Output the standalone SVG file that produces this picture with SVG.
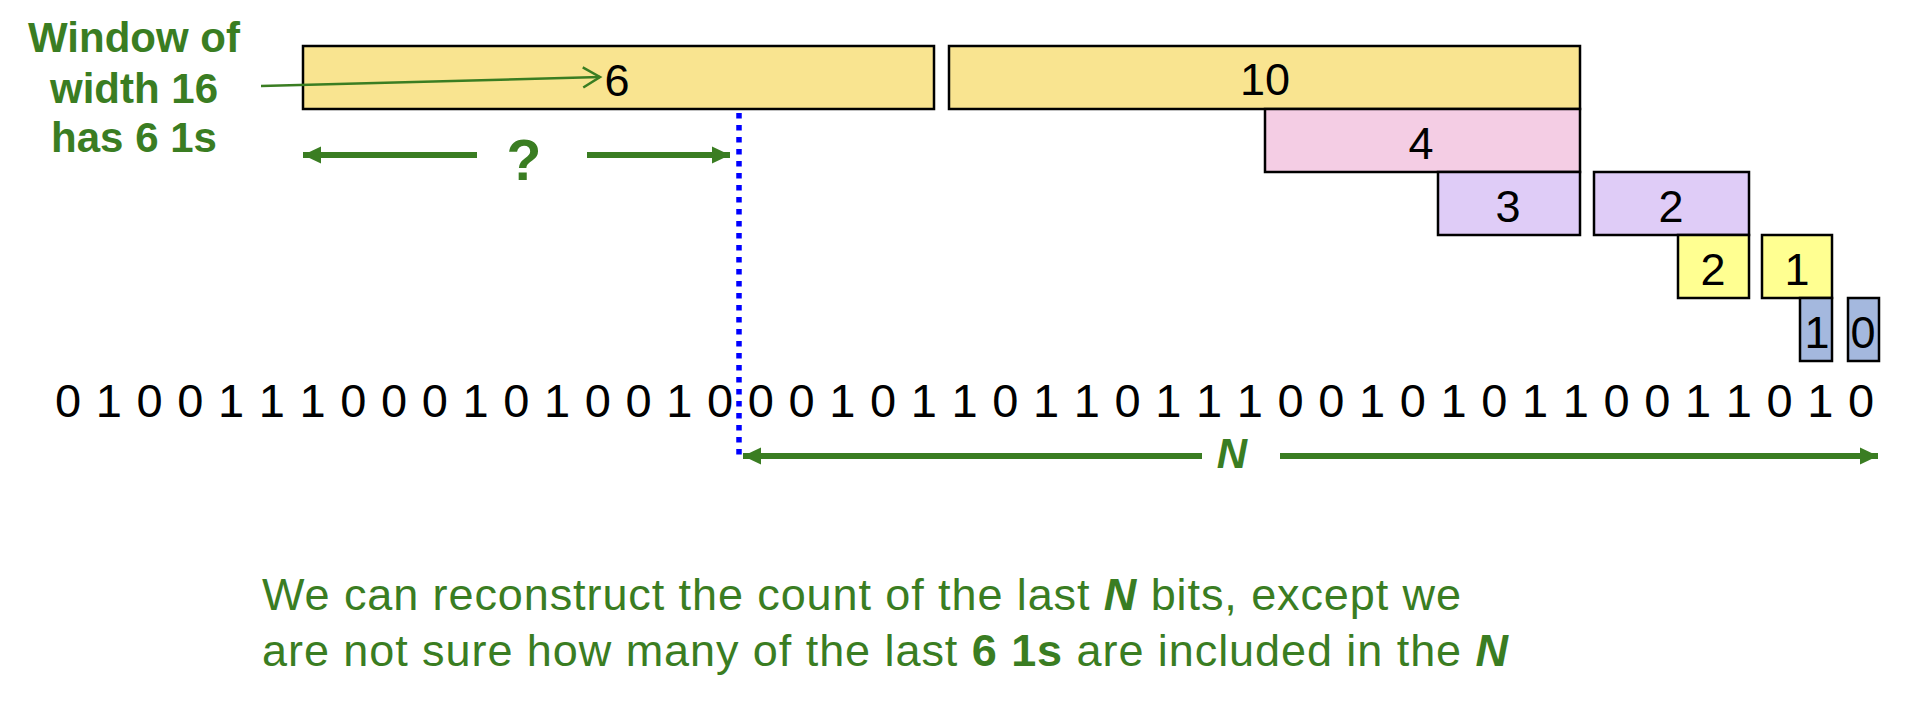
<svg xmlns="http://www.w3.org/2000/svg" width="1932" height="722" viewBox="0 0 1932 722">
<style>
.box{stroke:#000;stroke-width:2.5}
.gold{fill:#F9E490}
.pink{fill:#F4CDE4}
.lav{fill:#DFCCF7}
.yel{fill:#FFFF91}
.blu{fill:#A4B8DE}
.num{font-family:"Liberation Sans",Arial,sans-serif;font-size:45px;fill:#000;text-anchor:middle}
.bits{font-family:"Liberation Sans",Arial,sans-serif;font-size:47px;fill:#000;text-anchor:middle}
.gtxt{font-family:"Liberation Sans",Arial,sans-serif;fill:#3A7D22}
.gb{font-weight:bold}
.bi{font-weight:bold;font-style:italic}
.thick{stroke:#3A7D22;stroke-width:6;fill:none}
</style>
<defs>
<marker id="solid" markerUnits="userSpaceOnUse" markerWidth="20" markerHeight="20" viewBox="0 0 20 20" refX="18" refY="10" orient="auto">
<path d="M0,1.5 L18,10 L0,18.5 Z" fill="#3A7D22"/>
</marker>
<marker id="open" markerUnits="userSpaceOnUse" markerWidth="22" markerHeight="24" viewBox="0 0 22 24" refX="19" refY="12" orient="auto">
<path d="M2,2 L19,12 L2,22" fill="none" stroke="#3A7D22" stroke-width="2.5"/>
</marker>
</defs>
<rect width="1932" height="722" fill="#fff"/>

<g id="box6"><rect class="box gold" x="303" y="46" width="631" height="63"/><text class="num" x="617" y="96">6</text></g>
<g id="box10"><rect class="box gold" x="949" y="46" width="631" height="63"/><text class="num" x="1265" y="95">10</text></g>
<g id="box4"><rect class="box pink" x="1265" y="109" width="315" height="63"/><text class="num" x="1421" y="159">4</text></g>
<g id="box3"><rect class="box lav" x="1438" y="172" width="142" height="63"/><text class="num" x="1508" y="222">3</text></g>
<g id="box2a"><rect class="box lav" x="1594" y="172" width="155" height="63"/><text class="num" x="1671" y="222">2</text></g>
<g id="box2b"><rect class="box yel" x="1678" y="235" width="71" height="63"/><text class="num" x="1713" y="285">2</text></g>
<g id="box1a"><rect class="box yel" x="1762" y="235" width="70" height="63"/><text class="num" x="1797" y="285">1</text></g>
<g id="box1b"><rect class="box blu" x="1800" y="298" width="32" height="63"/><text class="num" x="1817" y="348">1</text></g>
<g id="box0"><rect class="box blu" x="1848" y="298" width="31" height="63"/><text class="num" x="1863" y="348">0</text></g>

<g id="bitstring">
<text class="bits" y="417" x="68 108.75 149.5 190.25 231 271.75 312.5 353.25 394 434.75 475.5 516.25 557 597.75 638.5 679.25 720 760.75 801.5 842.25 883 923.75 964.5 1005.25 1046 1086.75 1127.5 1168.25 1209 1249.75 1290.5 1331.25 1372 1412.75 1453.5 1494.25 1535 1575.75 1616.5 1657.25 1698 1738.75 1779.5 1820.25 1861">010011100010100100010110110111001010110011010</text>
</g>

<g id="window-label">
<text class="gtxt gb" font-size="42" text-anchor="middle" x="134" y="51.7">Window of</text>
<text class="gtxt gb" font-size="42" text-anchor="middle" x="134" y="103.3">width 16</text>
<text class="gtxt gb" font-size="42" text-anchor="middle" x="134" y="151.7">has 6 1s</text>
</g>

<g id="question-label"><text class="gtxt gb" font-size="57" text-anchor="middle" x="524" y="180">?</text></g>
<g id="n-label"><text class="gtxt bi" font-size="42" text-anchor="middle" x="1232" y="468">N</text></g>

<g id="connectors">
<line x1="739" y1="113" x2="739" y2="457" stroke="#0000FF" stroke-width="5.5" stroke-dasharray="5.5 6.5"/>
<line x1="261" y1="86" x2="600" y2="77" stroke="#3A7D22" stroke-width="2.5" marker-end="url(#open)"/>
<line class="thick" x1="477" y1="155" x2="303" y2="155" marker-end="url(#solid)"/>
<line class="thick" x1="587" y1="155" x2="730" y2="155" marker-end="url(#solid)"/>
<line class="thick" x1="1202" y1="456" x2="743" y2="456" marker-end="url(#solid)"/>
<line class="thick" x1="1280" y1="456" x2="1878" y2="456" marker-end="url(#solid)"/>
</g>

<g id="caption">
<text class="gtxt" font-size="45" x="262" y="610" textLength="1199" lengthAdjust="spacing">We can reconstruct the count of the last <tspan class="bi">N</tspan> bits, except we</text>
<text class="gtxt" font-size="45" x="262" y="666" textLength="1246" lengthAdjust="spacing">are not sure how many of the last <tspan class="gb">6 1s</tspan> are included in the <tspan class="bi">N</tspan></text>
</g>
</svg>
